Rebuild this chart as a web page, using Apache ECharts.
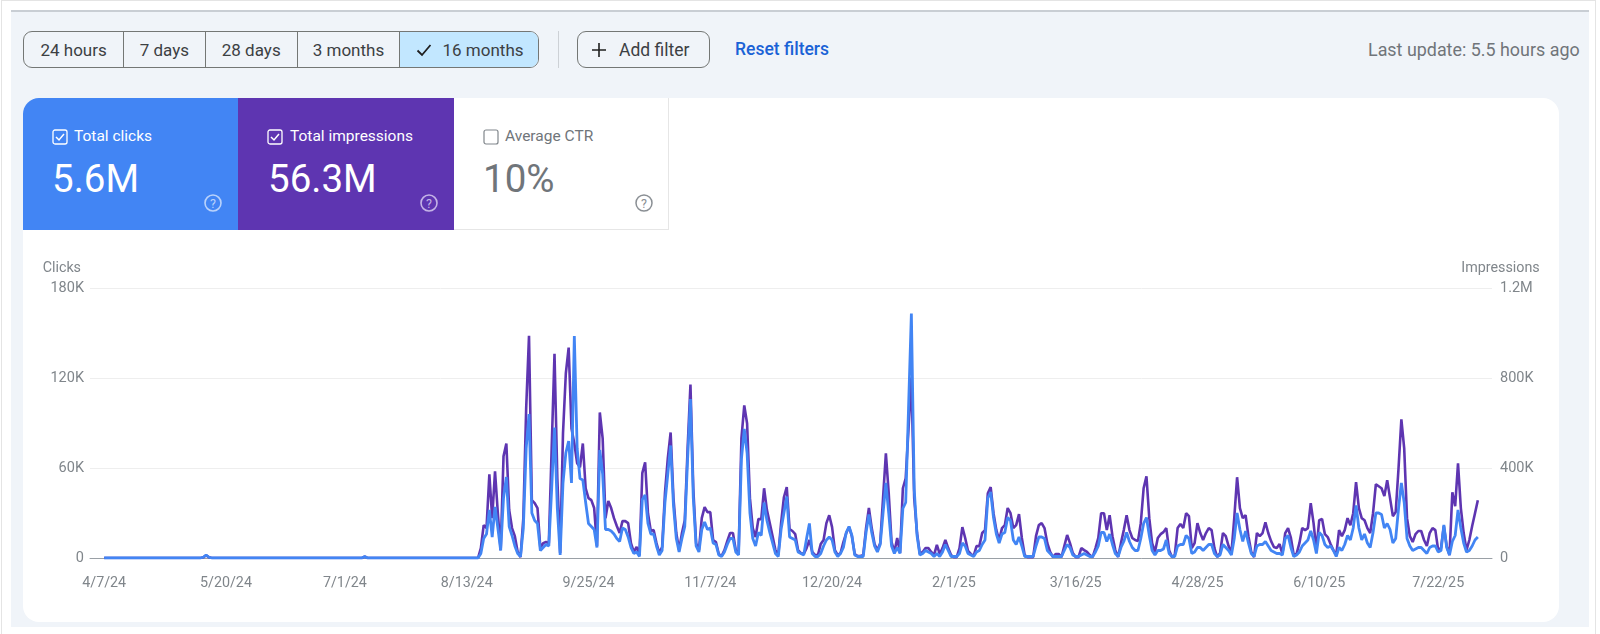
<!DOCTYPE html>
<html>
<head>
<meta charset="utf-8">
<title>Performance</title>
<script src="https://cdn.jsdelivr.net/npm/echarts@6/dist/echarts.min.js"></script>
<style>
    html, body { margin: 0; padding: 0; width: 1600px; height: 634px; overflow: hidden; background: #fff; font-family: Roboto, sans-serif; }
    .abs { position: absolute; box-sizing: border-box; white-space: nowrap; }
    #panel { left: 11px; top: 10px; width: 1578px; height: 617px; background: #f0f4f9; border-top: 2px solid #c9ced4; }
    #frame { left: 1px; top: 0; width: 1595px; height: 634px; border: 1px solid #e4e4e4; border-bottom: none; }
    #tabs { left: 23px; top: 31px; width: 516px; height: 37px; display: flex; border: 1px solid #747775; border-radius: 9px; overflow: hidden; font-size: 17px; color: #3c4043; }
    #tabs div { display: flex; align-items: center; justify-content: center; border-right: 1px solid #747775; }
    #tabs div:last-child { border-right: none; background: #c2e7ff; }
    #sep { left: 558px; top: 31px; width: 1px; height: 37px; background: #cdd1d6; }
    #add { left: 577px; top: 31px; width: 133px; height: 37px; border: 1px solid #747775; border-radius: 9px; font-size: 17.5px; color: #3c4043; display: flex; align-items: center; padding-left: 13px; }
    #reset { left: 735px; top: 39px; font-size: 17.5px; font-weight: 500; color: #1a62d6; line-height: 20px; }
    #update { left: 1368px; top: 40px; font-size: 17.9px; color: #70757a; line-height: 20px; }
    #card { left: 23px; top: 98px; width: 1536px; height: 524px; background: #fff; border-radius: 16px; }
    .tile { top: 98px; height: 132px; }
    .tile .name { position: absolute; left: 51px; top: 29px; font-size: 15.5px; line-height: 18px; }
    .tile .num { position: absolute; left: 29px; top: 59px; font-size: 38.5px; line-height: 44px; }
    .tile svg.chk { position: absolute; left: 29px; top: 31px; }
    .tile svg.help { position: absolute; top: 96px; }
    #t1 { left: 23px; width: 215px; background: #4285f4; color: #fff; border-top-left-radius: 16px; }
    #t2 { left: 238px; width: 216px; background: #5e35b1; color: #fff; }
    #t3 { left: 454px; width: 215px; background: #fff; color: #70757a; border-right: 1px solid #e6e6e6; border-bottom: 1px solid #e6e6e6; }
    #chart { position: absolute; left: 0; top: 0; width: 1600px; height: 634px; }
</style>
</head>
<body>
<div class="abs" id="frame"></div>
<div class="abs" id="panel"></div>
<div class="abs" id="tabs">
    <div style="width:100px">24 hours</div>
    <div style="width:81px">7 days</div>
    <div style="width:92px">28 days</div>
    <div style="width:102px">3 months</div>
    <div style="width:139px">
        <svg width="18" height="18" viewBox="0 0 18 18" style="margin-right:10px"><path d="M2.5 9.5 L7 14 L15.5 4" fill="none" stroke="#1f1f1f" stroke-width="1.8"/></svg>16 months
    </div>
</div>
<div class="abs" id="sep"></div>
<div class="abs" id="add">
    <svg width="16" height="16" viewBox="0 0 16 16" style="margin-right:12px"><path d="M8 1 V15 M1 8 H15" stroke="#1f1f1f" stroke-width="1.6"/></svg>Add filter
</div>
<div class="abs" id="reset">Reset filters</div>
<div class="abs" id="update">Last update: 5.5 hours ago</div>
<div class="abs" id="card"></div>
<div class="abs tile" id="t1">
    <svg class="chk" width="16" height="16" viewBox="0 0 16 16"><rect x="1" y="1" width="14" height="14" rx="2" fill="none" stroke="#fff" stroke-width="1.3"/><path d="M4 8 L7 11 L12 5" fill="none" stroke="#fff" stroke-width="1.5"/></svg>
    <div class="name">Total clicks</div>
    <div class="num">5.6M</div>
    <svg class="help" style="left:181px" width="18" height="18" viewBox="0 0 18 18"><circle cx="9" cy="9" r="8" fill="none" stroke="#b9d2fb" stroke-width="1.6"/><text x="9" y="13.5" text-anchor="middle" font-size="12.5" fill="#b9d2fb" font-family="Roboto">?</text></svg>
</div>
<div class="abs tile" id="t2">
    <svg class="chk" width="16" height="16" viewBox="0 0 16 16"><rect x="1" y="1" width="14" height="14" rx="2" fill="none" stroke="#fff" stroke-width="1.3"/><path d="M4 8 L7 11 L12 5" fill="none" stroke="#fff" stroke-width="1.5"/></svg>
    <div class="name" style="left:52px">Total impressions</div>
    <div class="num" style="left:30px">56.3M</div>
    <svg class="help" style="left:182px" width="18" height="18" viewBox="0 0 18 18"><circle cx="9" cy="9" r="8" fill="none" stroke="#c4b3e6" stroke-width="1.6"/><text x="9" y="13.5" text-anchor="middle" font-size="12.5" fill="#c4b3e6" font-family="Roboto">?</text></svg>
</div>
<div class="abs tile" id="t3">
    <svg class="chk" width="16" height="16" viewBox="0 0 16 16"><rect x="1" y="1" width="14" height="14" rx="2" fill="none" stroke="#80868b" stroke-width="1.2"/></svg>
    <div class="name">Average CTR</div>
    <div class="num">10%</div>
    <svg class="help" style="left:181px" width="18" height="18" viewBox="0 0 18 18"><circle cx="9" cy="9" r="8" fill="none" stroke="#8a8f94" stroke-width="1.5"/><text x="9" y="13.5" text-anchor="middle" font-size="12.5" fill="#8a8f94" font-family="Roboto">?</text></svg>
</div>
<div id="chart"></div>
<script>
// x axis labels, one every 43 days or so
const tickLabels = ['4/7/24', '5/20/24', '7/1/24', '8/13/24', '9/25/24', '11/7/24', '12/20/24', '2/1/25', '3/16/25', '4/28/25', '6/10/25', '7/22/25'];
const firstDay = [2024, 3, 7];
const dayCount = 486;

// clicks per day, in thousands (starts 4/7/24)
const clicks = [
    0,0,0,0,0,0,0,0,0,0, 0,0,0,0,0,0,0,0,0,0,
    0,0,0,0,0,0,0,0,0,0, 0,0,0,0,0,0.5,2,0.5,0,0,
    0,0,0,0,0,0,0,0,0,0, 0,0,0,0,0,0,0,0,0,0,
    0,0,0,0,0,0,0,0,0,0, 0,0,0,0,0,0,0,0,0,0,
    0,0,0,0,0,0,0,0,0,0, 0,0,1,0,0,0,0,0,0,0,
    0,0,0,0,0,0,0,0,0,0, 0,0,0,0,0,0,0,0,0,0,
    0,0,0,0,0,0,0,0,0,0, 0,0,0,
    3,13,16,32,14,34,20,
    5,40,54,21,15,8,3,1,20,73,
    96,30,25,23,5,7,9,8,46,87,
    33,2,50,70,78,50,148,73,53,52,
    37,23,21,19,7,72,56,19,19,18,
    16,13,11,20,19,14,7,3,4,1,
    39,42,23,16,16,8,2,5,37,56,
    75,35,13,4,13,21,66,106,40,8,
    4,19,24,19,20,10,9,2,1,4,
    9,13,13,4,2,66,86,70,30,13,
    8,17,15,37,25,17,10,3,1,19,
    30,41,14,13,12,4,3,2,13,23,
    3,1,1,3,8,12,14,12,4,1,
    3,7,17,21,15,2,1,1,1,17,
    29,17,8,4,9,30,50,30,8,3,
    7,3,33,37,100,163,46,15,2,3,
    5,4,3,1,3,1,4,9,5,1,
    1,1,3,10,8,3,2,1,4,5,
    9,12,40,44,27,16,10,16,17,27,
    25,12,9,14,8,1,1,1,1,8,
    14,14,13,5,3,1,1,1,1,5,
    9,7,2,1,1,2,3,2,1,1,
    4,8,17,17,11,16,9,3,1,7,
    11,17,11,7,5,5,13,23,27,15,
    5,2,5,5,6,12,3,1,1,8,
    9,9,15,13,3,4,7,7,5,7,
    9,9,3,1,2,9,7,5,2,13,
    30,19,11,18,10,3,1,8,9,9,
    11,8,5,4,3,3,2,13,15,7,
    1,2,4,8,10,12,18,12,3,17,
    15,9,7,8,5,1,7,5,9,15,
    12,20,35,20,12,16,10,7,17,30,
    30,29,20,23,19,10,13,33,50,37,
    13,8,5,6,7,7,5,3,7,8,
    8,4,5,22,7,2,11,15,32,20,
    10,4,5,8,12,14
];

// impressions per day, in thousands
const impressions = [
    0,0,0,0,0,0,0,0,0,0, 0,0,0,0,0,0,0,0,0,0,
    0,0,0,0,0,0,0,0,0,0, 0,0,0,0,0,3,12,3,0,0,
    0,0,0,0,0,0,0,0,0,0, 0,0,0,0,0,0,0,0,0,0,
    0,0,0,0,0,0,0,0,0,0, 0,0,0,0,0,0,0,0,0,0,
    0,0,0,0,0,0,0,0,0,0, 0,0,6,0,0,0,0,0,0,0,
    0,0,0,0,0,0,0,0,0,0, 0,0,0,0,0,0,0,0,0,0,
    0,0,0,0,0,0,0,0,0,0, 0,0,0,
    44,146,133,372,177,385,199,
    35,452,509,213,133,97,27,4,177,665,
    988,257,244,222,44,66,71,66,487,908,
    354,22,554,820,935,576,509,421,403,509,
    310,266,257,222,53,647,532,177,253,222,
    177,142,111,164,164,155,66,27,49,13,
    377,425,199,120,124,66,22,49,288,443,
    558,266,111,35,111,168,487,771,310,66,
    35,177,226,204,204,80,71,18,9,35,
    75,111,111,35,22,532,678,598,266,133,
    93,173,173,310,213,155,97,35,13,155,
    270,315,128,120,106,35,22,18,44,80,
    27,13,13,62,80,155,190,137,35,13,
    22,71,111,137,97,18,9,9,13,133,
    222,133,62,35,66,266,465,288,71,27,
    89,22,310,354,576,802,266,111,18,27,
    44,44,27,13,58,18,44,80,44,13,
    4,4,44,137,89,31,18,9,53,53,
    111,124,288,315,199,124,80,133,146,222,
    199,133,146,195,89,13,4,4,4,97,
    146,155,133,66,27,4,18,18,4,53,
    102,66,22,4,4,44,35,27,13,4,
    44,89,199,199,124,190,97,35,4,66,
    124,190,124,89,80,75,155,310,363,177,
    66,27,89,106,115,133,35,4,13,133,
    151,133,199,186,44,66,155,111,80,111,
    133,124,44,4,22,111,97,53,22,177,
    359,222,177,190,97,27,4,111,97,111,
    159,111,75,49,44,62,18,111,133,89,
    13,18,66,133,124,133,244,155,35,168,
    173,106,93,62,35,13,124,97,124,177,
    146,199,337,222,177,168,133,111,199,328,
    319,310,275,346,266,186,204,399,616,487,
    177,97,71,106,120,120,80,53,111,133,
    124,35,44,142,53,13,292,230,421,222,
    111,35,80,142,199,257
];

// the plot keeps a small gap each side of the lines, so add empty days
const padDays = 5;

function makeDays() {
    let days = [];
    let d = new Date(firstDay[0], firstDay[1], firstDay[2] - padDays);
    for (let i = 0; i < dayCount + padDays * 2; i++) {
        days.push((d.getMonth() + 1) + '/' + d.getDate() + '/' + String(d.getFullYear()).slice(2));
        d.setDate(d.getDate() + 1);
    }
    return days;
}

function padded(values) {
    let gap = new Array(padDays).fill(null);
    return gap.concat(values, gap);
}

let chart = echarts.init(document.getElementById('chart'));
let labelColor = '#80868b';
let option = {
    animation: false,
    textStyle: { fontFamily: 'Roboto' },
    grid: { left: 90, right: 108, top: 288, bottom: 76 },
    xAxis: {
        type: 'category',
        boundaryGap: false,
        data: makeDays(),
        axisTick: { show: false },
        axisLine: { lineStyle: { color: '#9aa0a6', width: 1 } },
        axisLabel: {
            color: labelColor,
            fontSize: 14.3,
            margin: 18,
            interval: function (index, value) {
                return tickLabels.indexOf(value) >= 0;
            }
        },
        splitLine: { show: false }
    },
    yAxis: [{
        type: 'value',
        name: 'Clicks',
        nameLocation: 'end',
        nameGap: 13,
        nameTextStyle: { color: labelColor, fontSize: 14.3, align: 'right', padding: [0, 9, 0, 0] },
        min: 0,
        max: 180,
        interval: 60,
        axisLine: { show: false },
        axisTick: { show: false },
        axisLabel: {
            color: labelColor,
            fontSize: 14.5,
            margin: 6,
            formatter: function (v) {
                return v === 0 ? '0' : v + 'K';
            }
        },
        splitLine: { lineStyle: { color: '#eeeeee', width: 1 } }
    }, {
        type: 'value',
        name: 'Impressions',
        nameLocation: 'end',
        nameGap: 13,
        nameTextStyle: { color: labelColor, fontSize: 14.3, align: 'center', padding: [0, 0, 0, 17] },
        min: 0,
        max: 1200,
        interval: 400,
        axisLine: { show: false },
        axisTick: { show: false },
        axisLabel: {
            color: labelColor,
            fontSize: 14.5,
            margin: 8,
            formatter: function (v) {
                if (v === 0) return '0';
                return v >= 1000 ? (v / 1000) + 'M' : v + 'K';
            }
        },
        splitLine: { show: false }
    }],
    series: [{
        name: 'Impressions',
        type: 'line',
        yAxisIndex: 1,
        symbol: 'none',
        lineStyle: { color: '#5e35b1', width: 2.6 },
        data: padded(impressions)
    }, {
        name: 'Clicks',
        type: 'line',
        yAxisIndex: 0,
        symbol: 'none',
        lineStyle: { color: '#4285f4', width: 2.8 },
        data: padded(clicks)
    }]
};
chart.setOption(option);
</script>
</body>
</html>
